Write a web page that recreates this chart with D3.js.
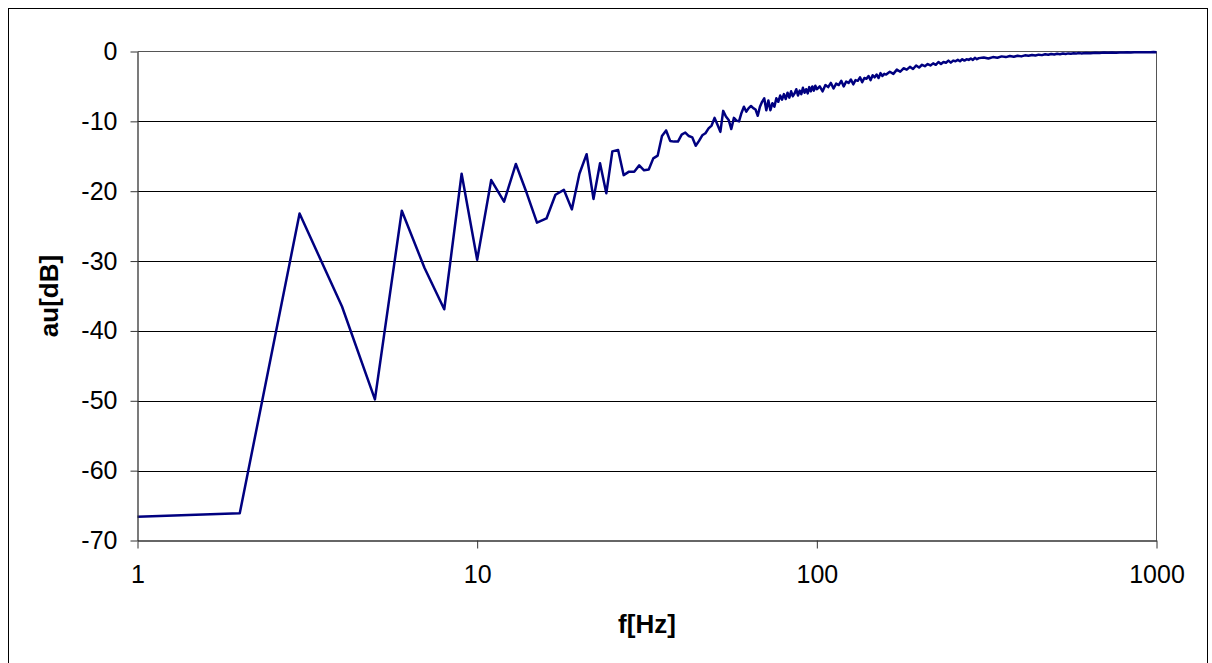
<!DOCTYPE html>
<html>
<head>
<meta charset="utf-8">
<script src="https://cdn.jsdelivr.net/npm/d3@7"></script>
<style>
  html, body { margin: 0; padding: 0; background: #fff; }
  svg { display: block; }
  text { font-family: "Liberation Sans", Arial, sans-serif; fill: #000; }
</style>
</head>
<body>
<svg id="chart" width="1212" height="663"></svg>
<script>
// Spectrum magnitude: frequency bins (Hz) and level (dB)
const freqHz = [
  1, 2, 3, 4, 5, 6, 7, 8, 9, 10,
  11, 12, 13, 14, 15, 16, 17, 18, 19, 20,
  21, 22, 23, 24, 25, 26, 27, 28, 29, 30,
  31, 32, 33, 34, 35, 36, 37, 38, 39, 40,
  41, 42, 43, 44, 45, 46, 47, 48, 49, 50,
  51, 52, 53, 54, 55, 56, 57, 58, 59, 60,
  61, 62, 63, 64, 65, 66, 67, 68, 69, 70,
  71, 72, 73, 74, 75, 76, 77, 78, 79, 80,
  81, 82, 83, 84, 85, 86, 87, 88, 89, 90,
  91, 92, 93, 94, 95, 96, 97, 98, 99, 100,
  102, 104, 106, 108, 110, 112, 114, 116, 118, 120,
  122, 124, 126, 128, 130, 132, 134, 136, 138, 140,
  142, 144, 146, 148, 150, 152, 154, 156, 158, 160,
  164, 168, 172, 176, 180, 184, 188, 192, 196, 200,
  204, 208, 212, 216, 220, 224, 228, 232, 236, 240,
  244, 248, 252, 256, 260, 264, 268, 272, 276, 280,
  284, 288, 292, 296, 300,
  310, 320, 330, 340, 350, 360, 370, 380, 390, 400,
  410, 420, 430, 440, 450, 460, 470, 480, 490, 500,
  510, 520, 530, 540, 550, 560, 570, 580, 590, 600,
  620, 640, 660, 680, 700, 720, 740, 760, 780, 800,
  820, 840, 860, 880, 900, 920, 940, 960, 980, 1000
];

const levelDb = [
  -66.6, -66.1, -23.2, -36.5, -49.8, -22.8, -31.0, -36.9, -17.5, -29.8,
  -18.4, -21.5, -16.1, -20.3, -24.5, -23.9, -20.5, -19.8, -22.6, -17.5,
  -14.7, -21.1, -16.0, -20.3, -14.3, -14.1, -17.7, -17.2, -17.2, -16.3,
  -17.0, -16.9, -15.3, -14.9, -12.1, -11.3, -12.8, -12.9, -12.9, -11.9,
  -11.6, -12.1, -12.3, -13.5, -12.8, -12.0, -11.7, -11.0, -10.6, -9.5,
  -10.5, -11.5, -8.5, -9.3, -9.8, -11.1, -9.5, -9.9, -10.0, -8.8,
  -7.9, -8.6, -8.1, -7.8, -8.1, -8.3, -9.2, -7.9, -7.2, -6.7,
  -8.4, -7.0, -8.4, -7.4, -7.9, -6.7, -7.2, -6.3, -6.9, -6.1,
  -6.8, -5.9, -6.6, -5.7, -6.4, -6.0, -5.4, -6.3, -5.6, -6.1,
  -5.2, -5.9, -5.4, -6.0, -5.1, -5.7, -5.0, -5.6, -4.9, -5.4,
  -5.0, -5.7, -4.8, -5.1, -4.5, -5.3, -4.6, -4.8, -4.2, -5.0,
  -4.3, -4.5, -4.0, -4.7, -4.1, -4.2, -3.7, -4.4, -3.8, -3.9,
  -3.5, -4.1, -3.4, -3.7, -3.3, -3.8, -3.1, -3.5, -3.2, -3.3,
  -2.9, -3.2, -2.6, -2.9, -2.4, -2.6, -2.2, -2.5, -2.0, -2.3,
  -1.9, -2.1, -1.8, -2.0, -1.7, -1.9, -1.5, -1.8, -1.5, -1.6,
  -1.3, -1.6, -1.3, -1.4, -1.2, -1.4, -1.1, -1.3, -1.1, -1.2,
  -1.0, -1.2, -0.9, -1.1, -0.95,
  -0.85, -1.0, -0.8, -0.9, -0.7, -0.8, -0.65, -0.75, -0.6, -0.7,
  -0.55, -0.62, -0.5, -0.58, -0.45, -0.52, -0.4, -0.47, -0.36, -0.43,
  -0.33, -0.38, -0.3, -0.36, -0.27, -0.32, -0.25, -0.3, -0.22, -0.27,
  -0.2, -0.24, -0.18, -0.21, -0.16, -0.19, -0.14, -0.17, -0.13, -0.15,
  -0.12, -0.14, -0.11, -0.12, -0.1, -0.12, -0.09, -0.1, -0.08, -0.1
];

const xTickValues = [1, 10, 100, 1000];
const yTickValues = [-70, -60, -50, -40, -30, -20, -10, 0];
const xTitle = "f[Hz]";
const yTitle = "au[dB]";

const series = freqHz.map((f, i) => ({ f, v: levelDb[i] }));

const svg = d3.select("#chart");

// chart frame
svg.append("rect")
  .attr("x", 8.5).attr("y", 8.5)
  .attr("width", 1199).attr("height", 720)
  .attr("fill", "#fff").attr("stroke", "#000").attr("stroke-width", 1);

const plot = { left: 137.5, right: 1156.5, top: 51.5, bottom: 540.5 };

const x = d3.scaleLog().domain([1, 1000]).range([plot.left, plot.right]);
const y = d3.scaleLinear().domain([-70, 0]).range([plot.bottom, plot.top]);

// plain hyphen-minus labels
const plainLabel = d => String(d);

// horizontal gridlines
svg.append("g")
  .selectAll("line")
  .data(yTickValues.filter(v => v !== -70 && v !== 0))
  .join("line")
  .attr("x1", plot.left).attr("x2", plot.right)
  .attr("y1", d => Math.round(y(d)) + 0.5).attr("y2", d => Math.round(y(d)) + 0.5)
  .attr("stroke", "#000").attr("stroke-width", 1);

// plot area border (top / right)
svg.append("path")
  .attr("d", `M${plot.left},${plot.top}H${plot.right}V${plot.bottom}`)
  .attr("fill", "none").attr("stroke", "#555").attr("stroke-width", 1);

// data line
svg.append("path")
  .datum(series)
  .attr("fill", "none")
  .attr("stroke", "#000080")
  .attr("stroke-width", 2.5)
  .attr("stroke-linejoin", "round")
  .attr("d", d3.line().x(d => x(d.f)).y(d => y(d.v)));

// y axis
const yAxis = svg.append("g")
  .attr("transform", `translate(${plot.left},0)`)
  .call(d3.axisLeft(y).tickValues(yTickValues).tickFormat(plainLabel)
    .tickSizeInner(7).tickSizeOuter(0).tickPadding(13));
yAxis.select(".domain").attr("stroke", "#333").attr("stroke-width", 1.3);
yAxis.selectAll(".tick line").attr("stroke", "#333");
yAxis.selectAll(".tick text")
  .attr("font-family", "Liberation Sans, Arial, sans-serif")
  .attr("font-size", 25).attr("fill", "#000");

// x axis
const xAxis = svg.append("g")
  .attr("transform", `translate(0,${plot.bottom})`)
  .call(d3.axisBottom(x).tickValues(xTickValues).tickFormat(plainLabel)
    .tickSizeInner(8).tickSizeOuter(0).tickPadding(17));
xAxis.select(".domain").attr("stroke", "#333").attr("stroke-width", 1.3);
xAxis.selectAll(".tick line").attr("stroke", "#333");
xAxis.selectAll(".tick text")
  .attr("font-family", "Liberation Sans, Arial, sans-serif")
  .attr("font-size", 25).attr("fill", "#000");

// axis titles
svg.append("text")
  .attr("x", (plot.left + plot.right) / 2).attr("y", 633)
  .attr("text-anchor", "middle")
  .attr("font-size", 26).attr("font-weight", "bold")
  .text(xTitle);

svg.append("text")
  .attr("transform", `translate(58,${(plot.top + plot.bottom) / 2}) rotate(-90)`)
  .attr("text-anchor", "middle")
  .attr("font-size", 26).attr("font-weight", "bold")
  .text(yTitle);
</script>
</body>
</html>
